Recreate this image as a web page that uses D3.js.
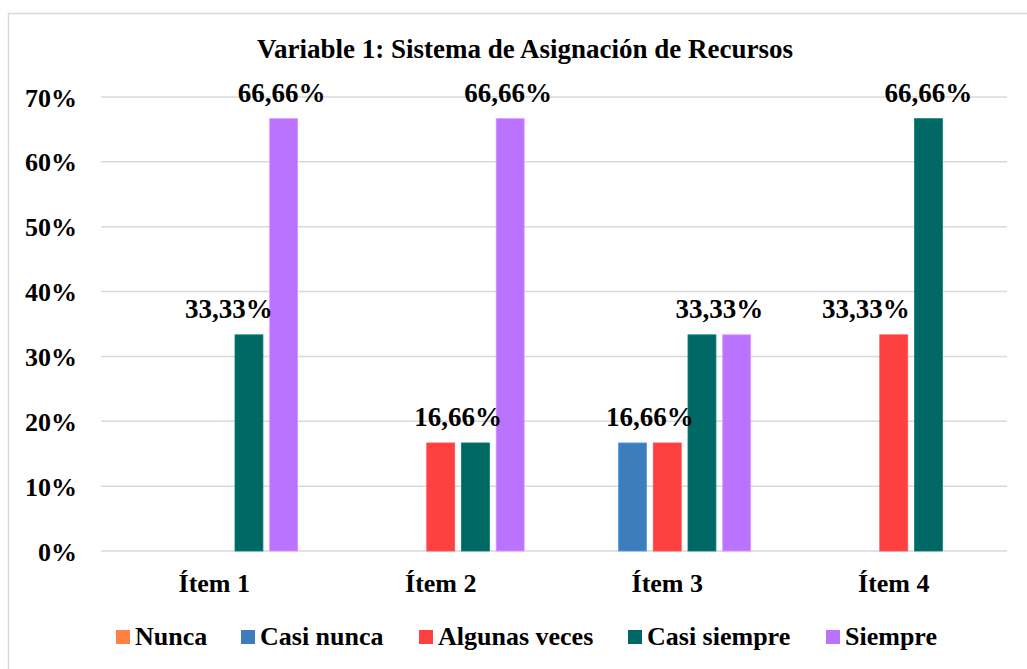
<!DOCTYPE html>
<html>
<head>
<meta charset="utf-8">
<script src="https://cdn.jsdelivr.net/npm/d3@7"></script>
<style>
  html, body { margin: 0; padding: 0; background: #fff; }
  svg text { font-family: "Liberation Serif", "DejaVu Serif", serif; font-weight: bold; fill: #000; }
</style>
</head>
<body>
<div id="chart"></div>
<script>
// chart data
var title = "Variable 1: Sistema de Asignación de Recursos";
var items = ["Ítem 1", "Ítem 2", "Ítem 3", "Ítem 4"];
var seriesNames = ["Nunca", "Casi nunca", "Algunas veces", "Casi siempre", "Siempre"];
var seriesColors = ["#FF8040", "#3E7DBD", "#FF4040", "#006864", "#B973FF"];
// one array per series, one value per item
var nunca = [0, 0, 0, 0];
var casiNunca = [0, 0, 0.1666, 0];
var algunasVeces = [0, 0.1666, 0.1666, 0.3333];
var casiSiempre = [0.3333, 0.1666, 0.3333, 0.6666];
var siempre = [0.6666, 0.6666, 0.3333, 0];
var seriesValues = [nunca, casiNunca, algunasVeces, casiSiempre, siempre];
var yTicks = [0, 0.1, 0.2, 0.3, 0.4, 0.5, 0.6, 0.7];
// data labels as shown in the original: which item, which bars it sits over, shift
var labelItems = [0, 0, 1, 1, 2, 2, 3, 3];
var labelSeries = [[3], [4], [2, 3], [4], [1, 2], [3, 4], [2], [3]];
var labelTexts = ["33,33%", "66,66%", "16,66%", "66,66%", "16,66%", "33,33%", "33,33%", "66,66%"];
var labelShift = [-20, -2, 0, -2, 0, 0, -28, 0];

var width = 1027, height = 669;
var plot = { left: 101, right: 1007, top: 97, bottom: 551 };

var svg = d3.select("#chart").append("svg")
    .attr("width", width)
    .attr("height", height);

// outer frame
svg.append("rect")
    .attr("x", 8.5).attr("y", 13.5)
    .attr("width", 1030).attr("height", 670)
    .attr("fill", "none")
    .attr("stroke", "#d9d9d9")
    .attr("stroke-width", 1.5);

var x0 = d3.scaleBand().domain(items).range([plot.left, plot.right]).padding(0);
var x1 = d3.scaleBand().domain(seriesNames).range([0, x0.bandwidth()])
    .paddingInner(0.195).paddingOuter(0.86);
var y = d3.scaleLinear().domain([0, 0.7]).range([plot.bottom, plot.top]);

// gridlines
svg.append("g").selectAll("line")
    .data(yTicks).enter().append("line")
    .attr("x1", plot.left).attr("x2", plot.right)
    .attr("y1", (d) => y(d)).attr("y2", (d) => y(d))
    .attr("stroke", "#d9d9d9")
    .attr("stroke-width", 1.5);

// y axis labels
var yAxis = d3.axisLeft(y).tickValues(yTicks).tickSize(0).tickPadding(0)
    .tickFormat((d) => Math.round(d * 100) + "%");
svg.append("g")
    .attr("transform", "translate(77,0)")
    .call(yAxis)
    .call((g) => g.select(".domain").remove())
    .selectAll("text")
    .attr("dy", "0.35em")
    .style("font-size", "26px");

// x axis labels
var xAxis = d3.axisBottom(x0).tickSize(0).tickPadding(0);
svg.append("g")
    .attr("transform", "translate(0," + plot.bottom + ")")
    .call(xAxis)
    .call((g) => g.select(".domain").remove())
    .selectAll("text")
    .attr("dy", 0)
    .attr("y", 41)
    .style("font-size", "26px");

// bars
var groups = svg.append("g").selectAll("g")
    .data(items).enter().append("g")
    .attr("transform", (d) => "translate(" + x0(d) + ",0)");

groups.selectAll("rect")
    .data((d, i) => seriesNames.map((s, k) => ({ series: s, value: seriesValues[k][i], color: seriesColors[k] })))
    .enter().append("rect")
    .filter((d) => d.value > 0)
    .attr("x", (d) => x1(d.series))
    .attr("y", (d) => y(d.value))
    .attr("width", x1.bandwidth())
    .attr("height", (d) => y(0) - y(d.value))
    .attr("fill", (d) => d.color)
    .attr("stroke", (d) => d3.color(d.color).brighter(0.6))
    .attr("stroke-width", 0.8);

// data labels
svg.append("g").selectAll("text")
    .data(labelTexts).enter().append("text")
    .attr("x", (d, i) => {
        var it = items[labelItems[i]];
        var cx = d3.mean(labelSeries[i], (k) => x0(it) + x1(seriesNames[k]) + x1.bandwidth() / 2);
        return cx + labelShift[i];
    })
    .attr("y", (d, i) => y(seriesValues[labelSeries[i][0]][labelItems[i]]) - 17)
    .attr("text-anchor", "middle")
    .style("font-size", "27px")
    .text((d) => d);

// title
svg.append("text")
    .attr("x", 525).attr("y", 58)
    .attr("text-anchor", "middle")
    .style("font-size", "27px")
    .text(title);

// legend
var legendX = [116, 241, 419, 628, 826];
var legend = svg.append("g").selectAll("g")
    .data(seriesNames).enter().append("g")
    .attr("transform", (d, i) => "translate(" + legendX[i] + ",630)");
legend.append("rect")
    .attr("width", 14).attr("height", 14)
    .attr("fill", (d, i) => seriesColors[i]);
legend.append("text")
    .attr("x", 19).attr("y", 15)
    .style("font-size", "26px")
    .text((d) => d);
</script>
</body>
</html>
